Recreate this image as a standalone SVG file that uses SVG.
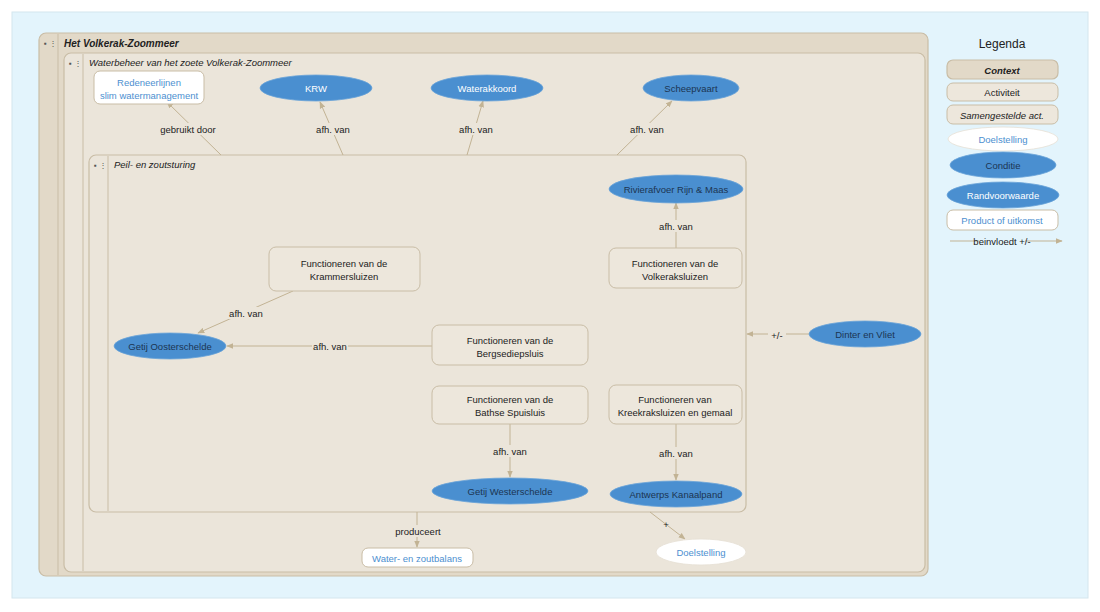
<svg xmlns="http://www.w3.org/2000/svg" width="1100" height="612" viewBox="0 0 1100 612">
<defs>
<marker id="arr" viewBox="0 0 10 10" refX="9" refY="5" markerWidth="7" markerHeight="7" orient="auto-start-reverse" markerUnits="userSpaceOnUse">
<path d="M0,1 L10,5 L0,9 z" fill="#c2b394"/>
</marker>
<style>
text{font-family:"Liberation Sans",Arial,sans-serif;font-size:9.5px;fill:#222;}
.ctx{fill:#ebe5da;stroke:#c9bda6;stroke-width:1.2;}
.ctxo{fill:#e2d9c8;stroke:#c9bda6;stroke-width:1.2;}
.strip{stroke:#c9bda6;stroke-width:1;}
.act{fill:#ede7dc;stroke:#c9bda6;stroke-width:1;}
.prod{fill:#fff;stroke:#c9bda6;stroke-width:1;}
.cond{fill:#4a8fd0;stroke:#6aa3d8;stroke-width:0.8;}
.goal{fill:#fff;stroke:#e6e0d4;stroke-width:0.8;}
.t{text-anchor:middle;dominant-baseline:central;}
.title{font-style:italic;}
.w{fill:#fff;}
.dk{fill:#1c3552;}
.bl{fill:#4d8fd0;}
.lnk{stroke:#c2b394;stroke-width:1;fill:none;marker-end:url(#arr);}
.lbl{text-anchor:middle;dominant-baseline:central;}
.lblbg{fill:#ebe5da;}
.ic{font-size:8px;fill:#555;}
</style>
</defs>
<rect x="0" y="0" width="1100" height="612" fill="#ffffff"/>
<rect x="12" y="12" width="1076" height="586" fill="#e3f4fc" stroke="#d4e6ee" stroke-width="1"/>

<g id="ctx-volkerak">
<rect class="ctxo" x="39" y="33" width="889" height="543" rx="7"/>
<line class="strip" x1="58" y1="34" x2="58" y2="575"/>
<text class="ic" x="44" y="46">▪ ⋮</text>
<text x="64" y="47" style="font-weight:bold;font-style:italic;font-size:10px;">Het Volkerak-Zoommeer</text>
</g>

<g id="ctx-waterbeheer">
<rect class="ctx" x="64" y="53" width="861" height="519" rx="7"/>
<line class="strip" x1="83" y1="54" x2="83" y2="571"/>
<text class="ic" x="69" y="66">▪ ⋮</text>
<text class="title" x="89" y="66">Waterbeheer van het zoete Volkerak-Zoommeer</text>
</g>

<g id="ctx-peil">
<rect class="ctx" x="89" y="155" width="657" height="357" rx="7"/>
<line class="strip" x1="108" y1="156" x2="108" y2="511"/>
<text class="ic" x="94" y="168">▪ ⋮</text>
<text class="title" x="114" y="168">Peil- en zoutsturing</text>
</g>

<g id="connectors">
<line class="lnk" x1="221" y1="155" x2="167" y2="102"/>
<line class="lnk" x1="343" y1="155" x2="320" y2="102"/>
<line class="lnk" x1="467" y1="155" x2="483" y2="101"/>
<line class="lnk" x1="617" y1="155" x2="672" y2="101"/>
<line class="lnk" x1="676" y1="248" x2="676" y2="203"/>
<line class="lnk" x1="293" y1="291" x2="198" y2="333"/>
<line class="lnk" x1="432" y1="346" x2="227" y2="346"/>
<line class="lnk" x1="809" y1="334" x2="747" y2="334"/>
<line class="lnk" x1="510" y1="424" x2="510" y2="477"/>
<line class="lnk" x1="676" y1="424" x2="676" y2="480"/>
<line class="lnk" x1="417" y1="512" x2="417" y2="547"/>
<line class="lnk" x1="650" y1="512" x2="685" y2="539"/>
<rect class="lblbg" x="165" y="123" width="46" height="12"/>
<text class="lbl" x="188" y="129">gebruikt door</text>
<rect class="lblbg" x="315" y="123" width="36" height="12"/>
<text class="lbl" x="333" y="129">afh. van</text>
<rect class="lblbg" x="458" y="123" width="36" height="12"/>
<text class="lbl" x="476" y="129">afh. van</text>
<rect class="lblbg" x="629" y="123" width="36" height="12"/>
<text class="lbl" x="647" y="129">afh. van</text>
<rect class="lblbg" x="658" y="220" width="36" height="12"/>
<text class="lbl" x="676" y="226">afh. van</text>
<rect class="lblbg" x="228" y="307" width="36" height="12"/>
<text class="lbl" x="246" y="313">afh. van</text>
<rect class="lblbg" x="312" y="340" width="36" height="12"/>
<text class="lbl" x="330" y="346">afh. van</text>
<rect class="lblbg" x="768" y="328" width="18" height="12"/>
<text class="lbl" x="777" y="335">+/-</text>
<rect class="lblbg" x="492" y="445" width="36" height="12"/>
<text class="lbl" x="510" y="451">afh. van</text>
<rect class="lblbg" x="658" y="447" width="36" height="12"/>
<text class="lbl" x="676" y="453">afh. van</text>
<rect class="lblbg" x="395" y="525" width="46" height="12"/>
<text class="lbl" x="418" y="531">produceert</text>
<text class="lbl" x="666" y="524">+</text>
</g>

<g id="n-redeneerlijnen">
<rect class="prod" x="94" y="71" width="110" height="33" rx="6"/>
<text class="t bl" x="149" y="82">Redeneerlijnen</text>
<text class="t bl" x="149" y="95">slim watermanagement</text>
</g>
<g id="n-krw">
<ellipse class="cond" cx="316" cy="88" rx="56" ry="13"/>
<text class="t w" x="316" y="88">KRW</text>
</g>
<g id="n-waterakkoord">
<ellipse class="cond" cx="487" cy="88" rx="56" ry="13"/>
<text class="t w" x="487" y="88">Waterakkoord</text>
</g>
<g id="n-scheepvaart">
<ellipse class="cond" cx="691" cy="88" rx="48" ry="13"/>
<text class="t dk" x="691" y="88">Scheepvaart</text>
</g>
<g id="n-rivierafvoer">
<ellipse class="cond" cx="676" cy="189" rx="67" ry="14"/>
<text class="t dk" x="676" y="189">Rivierafvoer Rijn &amp; Maas</text>
</g>
<g id="n-krammersluizen">
<rect class="act" x="269" y="247" width="151" height="44" rx="7"/>
<text class="t" x="344" y="263">Functioneren van de</text>
<text class="t" x="344" y="276">Krammersluizen</text>
</g>
<g id="n-volkeraksluizen">
<rect class="act" x="609" y="248" width="133" height="40" rx="7"/>
<text class="t" x="675" y="263">Functioneren van de</text>
<text class="t" x="675" y="276">Volkeraksluizen</text>
</g>
<g id="n-getij-oosterschelde">
<ellipse class="cond" cx="170" cy="346" rx="56" ry="13"/>
<text class="t dk" x="170" y="346">Getij Oosterschelde</text>
</g>
<g id="n-bergsediepsluis">
<rect class="act" x="432" y="325" width="156" height="40" rx="7"/>
<text class="t" x="510" y="340">Functioneren van de</text>
<text class="t" x="510" y="353">Bergsediepsluis</text>
</g>
<g id="n-dinter">
<ellipse class="cond" cx="865" cy="334" rx="56" ry="13"/>
<text class="t dk" x="865" y="334">Dinter en Vliet</text>
</g>
<g id="n-bathse">
<rect class="act" x="432" y="386" width="156" height="38" rx="7"/>
<text class="t" x="510" y="399">Functioneren van de</text>
<text class="t" x="510" y="412">Bathse Spuisluis</text>
</g>
<g id="n-kreekrak">
<rect class="act" x="609" y="385" width="133" height="39" rx="7"/>
<text class="t" x="675" y="399">Functioneren van</text>
<text class="t" x="675" y="412">Kreekraksluizen en gemaal</text>
</g>
<g id="n-getij-westerschelde">
<ellipse class="cond" cx="510" cy="491" rx="78" ry="13"/>
<text class="t dk" x="510" y="491">Getij Westerschelde</text>
</g>
<g id="n-antwerps">
<ellipse class="cond" cx="676" cy="494" rx="66" ry="13"/>
<text class="t dk" x="676" y="494">Antwerps Kanaalpand</text>
</g>
<g id="n-waterzoutbalans">
<rect class="prod" x="362" y="548" width="111" height="19" rx="6"/>
<text class="t bl" x="417" y="558">Water- en zoutbalans</text>
</g>
<g id="n-doelstelling">
<ellipse class="goal" cx="701" cy="552" rx="45" ry="13"/>
<text class="t bl" x="701" y="552">Doelstelling</text>
</g>

<g id="legend">
<text x="1002" y="48" style="font-size:12px;text-anchor:middle;">Legenda</text>
<rect class="ctxo" x="947" y="60" width="111" height="19" rx="6"/>
<text class="t" x="1002" y="70" style="font-weight:bold;font-style:italic;">Context</text>
<rect class="act" x="947" y="83" width="111" height="18" rx="6"/>
<text class="t" x="1002" y="92">Activiteit</text>
<rect class="act" x="947" y="105" width="111" height="19" rx="6"/>
<text class="t" x="1002" y="115" style="font-style:italic;">Samengestelde act.</text>
<ellipse class="goal" cx="1003" cy="139" rx="55" ry="12"/>
<text class="t bl" x="1003" y="139">Doelstelling</text>
<ellipse class="cond" cx="1003" cy="165" rx="53" ry="13"/>
<text class="t dk" x="1003" y="165">Conditie</text>
<ellipse class="cond" cx="1003" cy="195" rx="56" ry="13"/>
<text class="t w" x="1003" y="195">Randvoorwaarde</text>
<rect class="prod" x="947" y="210" width="111" height="20" rx="6"/>
<text class="t bl" x="1002" y="220">Product of uitkomst</text>
<line class="lnk" x1="950" y1="241" x2="1062" y2="241"/>
<rect x="979" y="235" width="46" height="12" fill="#e3f4fc"/>
<text class="lbl" x="1002" y="241">beinvloedt +/-</text>
</g>
</svg>
